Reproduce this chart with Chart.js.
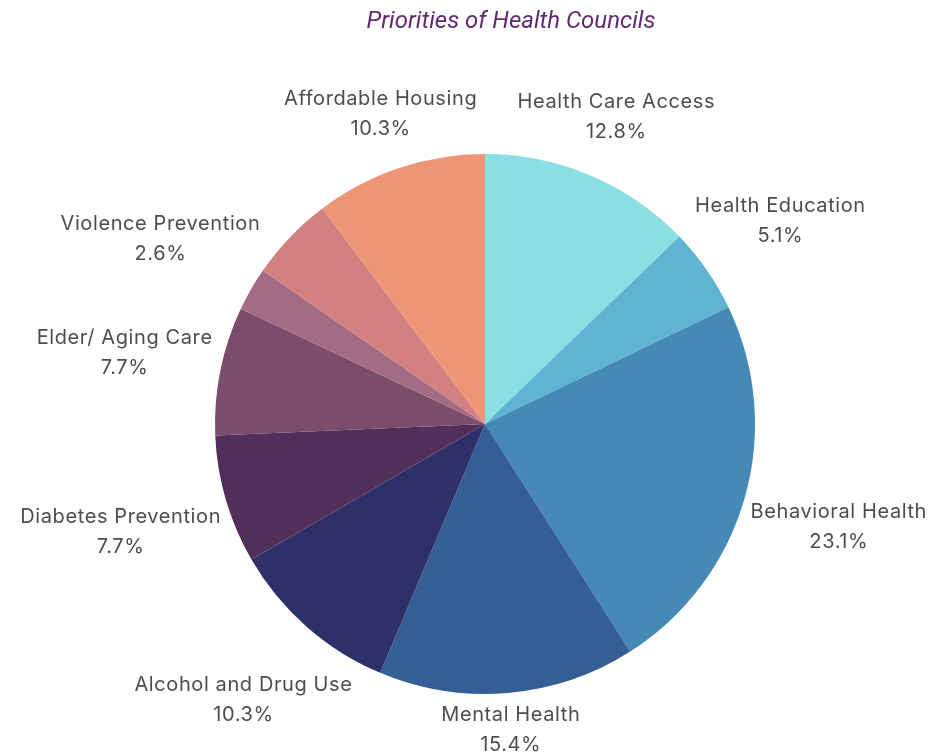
<!DOCTYPE html>
<html>
<head>
<meta charset="utf-8">
<script src="https://cdn.jsdelivr.net/npm/chart.js@4"></script>
<style>
  html, body { margin: 0; padding: 0; background: #ffffff; }
  #wrap { width: 936px; height: 752px; position: relative; }
</style>
</head>
<body>
<div id="wrap"><canvas id="c" width="936" height="752"></canvas></div>
<script>
// Priorities named by health councils (share of councils, %)
const categories = [
  'Health Care Access', 'Health Education', 'Behavioral Health', 'Mental Health',
  'Alcohol and Drug Use', 'Diabetes Prevention', 'Elder/ Aging Care',
  'Violence Prevention', '', 'Affordable Housing'
];
const shares = [12.8, 5.1, 23.1, 15.4, 10.3, 7.7, 7.7, 2.6, 5.1, 10.3];
const sliceColors = [
  '#8adfe5', '#5eb4d2', '#4689b6', '#365e96', '#2e3168',
  '#512f5a', '#7b4d6b', '#a46b84', '#d38080', '#ed9575'
];
const titleText = 'Priorities of Health Councils';

// Draws the title and the two-line outside labels (name + share)
const outsideLabels = {
  id: 'outsideLabels',
  afterDraw(chart) {
    const ctx = chart.ctx;
    ctx.save();
    ctx.fillStyle = '#5f2b6f';
    ctx.font = 'italic 24px Roboto';
    ctx.textAlign = 'center';
    ctx.textBaseline = 'middle';
    ctx.fillText(titleText, 511, 22);

    const meta = chart.getDatasetMeta(0);
    ctx.font = '20px Inter';
    ctx.letterSpacing = '0.6px';
    ctx.fillStyle = '#4d4d4d';
    const lineGap = 30;
    meta.data.forEach((arc, i) => {
      const name = categories[i];
      if (!name) return;
      const mid = (arc.startAngle + arc.endAngle) / 2;
      const dx = Math.cos(mid), dy = Math.sin(mid);
      const pct = shares[i].toFixed(1) + '%';
      const w = Math.max(ctx.measureText(name).width, ctx.measureText(pct).width);
      const h = 44;
      const reach = arc.outerRadius + 7 + Math.abs(dx) * w / 2 + Math.abs(dy) * h / 2;
      const cx = arc.x + dx * reach;
      const cy = arc.y + dy * reach + 2;
      ctx.fillText(name, cx, cy - lineGap / 2);
      ctx.fillText(pct, cx, cy + lineGap / 2);
    });
    ctx.restore();
  }
};

new Chart(document.getElementById('c'), {
  type: 'pie',
  data: {
    labels: categories,
    datasets: [{
      data: shares,
      backgroundColor: sliceColors,
      borderWidth: 0
    }]
  },
  options: {
    responsive: false,
    animation: false,
    layout: { padding: { left: 215, right: 181, top: 154, bottom: 58 } },
    plugins: {
      legend: { display: false },
      title: { display: false },
      tooltip: { enabled: false }
    }
  },
  plugins: [outsideLabels]
});
</script>
</body>
</html>
